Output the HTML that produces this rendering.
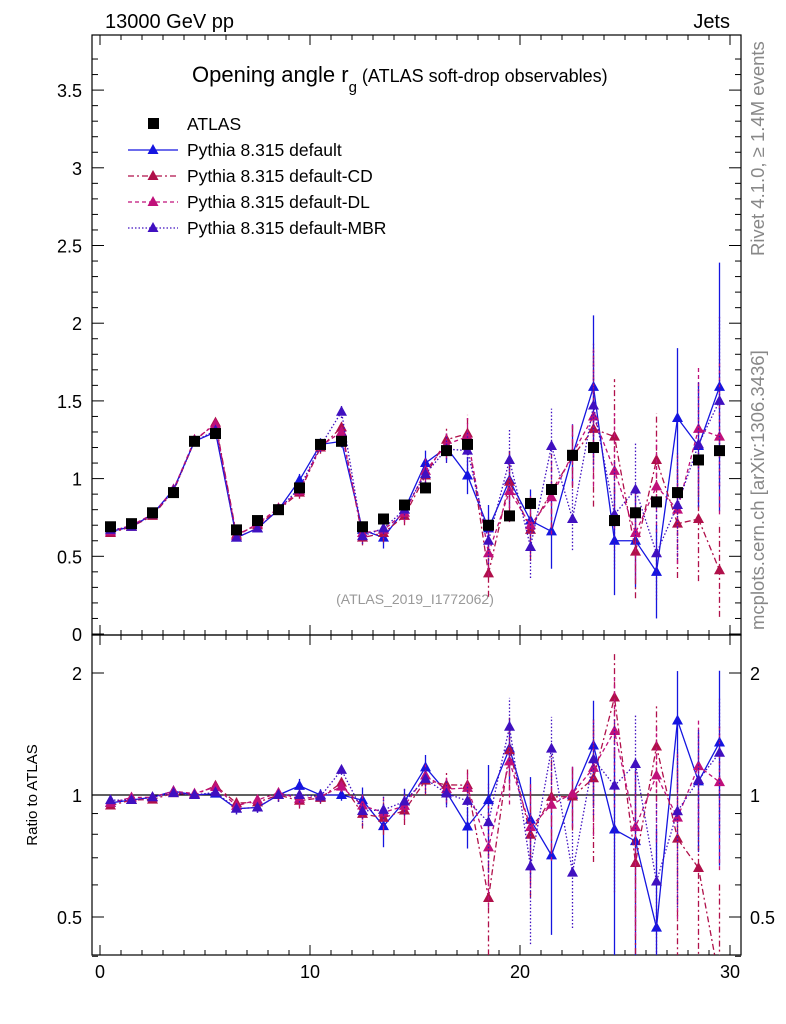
<!DOCTYPE html>
<html><head><meta charset="utf-8"><style>
html,body{margin:0;padding:0;background:#fff;overflow:hidden;width:786px;height:1024px;}
svg{font-family:"Liberation Sans",sans-serif;display:block;}
</style></head><body>
<svg id="c" width="786" height="1024" xmlns="http://www.w3.org/2000/svg">
<text x="105" y="28" font-size="20">13000 GeV pp</text>
<text x="730" y="28" font-size="20" text-anchor="end">Jets</text>
<text x="192" y="82" font-size="22">Opening angle r<tspan font-size="15" dy="10">g</tspan><tspan font-size="18" dy="-10"> (ATLAS soft-drop observables)</tspan></text>
<text x="415" y="604" font-size="14" fill="#999" text-anchor="middle">(ATLAS_2019_I1772062)</text>
<text transform="translate(764,256) rotate(-90)" font-size="18.5" fill="#888">Rivet 4.1.0, ≥ 1.4M events</text>
<text transform="translate(764,630) rotate(-90)" font-size="18.5" fill="#888">mcplots.cern.ch [arXiv:1306.3436]</text>
<text transform="translate(37,795) rotate(-90)" font-size="15" text-anchor="middle">Ratio to ATLAS</text>
<g id="g"></g>
</svg>
<script>
const bins=[0.5,1.5,2.5,3.5,4.5,5.5,6.5,7.5,8.5,9.5,10.5,11.5,12.5,13.5,14.5,15.5,16.5,17.5,18.5,19.5,20.5,21.5,22.5,23.5,24.5,25.5,26.5,27.5,28.5,29.5];
const atlas=[0.69,0.71,0.78,0.91,1.24,1.29,0.67,0.73,0.80,0.94,1.22,1.24,0.69,0.74,0.83,0.94,1.18,1.22,0.70,0.76,0.84,0.93,1.15,1.20,0.73,0.78,0.85,0.91,1.12,1.18];
const pDefault=[0.66,0.69,0.77,0.93,1.24,1.30,0.62,0.68,0.80,0.99,1.22,1.24,0.67,0.62,0.80,1.10,1.20,1.02,0.68,0.99,0.73,0.66,1.15,1.59,0.60,0.60,0.40,1.39,1.21,1.59];
const eDefault=[0.01,0.01,0.01,0.02,0.02,0.02,0.02,0.02,0.03,0.04,0.04,0.04,0.05,0.07,0.06,0.08,0.09,0.12,0.15,0.18,0.2,0.24,0.2,0.46,0.35,0.3,0.3,0.45,0.4,0.8];
const pCD=[0.65,0.69,0.76,0.92,1.24,1.36,0.64,0.70,0.80,0.91,1.20,1.33,0.62,0.65,0.76,1.02,1.25,1.29,0.39,0.98,0.67,0.92,1.14,1.32,1.27,0.53,1.12,0.71,0.74,0.41];
const eCD=[0.01,0.01,0.01,0.02,0.02,0.02,0.02,0.02,0.03,0.04,0.04,0.04,0.05,0.06,0.06,0.08,0.09,0.12,0.15,0.2,0.2,0.24,0.2,0.5,0.37,0.3,0.3,0.35,0.4,0.3];
const pDL=[0.66,0.70,0.77,0.93,1.25,1.35,0.63,0.71,0.81,0.92,1.21,1.30,0.65,0.67,0.78,1.05,1.22,1.27,0.52,0.92,0.70,0.88,1.16,1.40,1.05,0.65,0.95,0.80,1.32,1.27];
const eDL=[0.01,0.01,0.01,0.02,0.02,0.02,0.02,0.02,0.03,0.04,0.04,0.04,0.05,0.06,0.06,0.08,0.09,0.12,0.15,0.2,0.2,0.24,0.2,0.45,0.37,0.3,0.3,0.35,0.4,0.5];
const pMBR=[0.67,0.69,0.77,0.92,1.24,1.31,0.62,0.68,0.80,0.94,1.21,1.43,0.63,0.68,0.80,1.03,1.19,1.18,0.60,1.12,0.56,1.21,0.74,1.47,0.77,0.93,0.52,0.83,1.22,1.50];
const eMBR=[0.01,0.01,0.01,0.02,0.02,0.02,0.02,0.02,0.03,0.04,0.04,0.04,0.05,0.06,0.06,0.08,0.09,0.12,0.15,0.2,0.2,0.24,0.2,0.4,0.35,0.3,0.3,0.35,0.4,0.55];
const yTicks=[0,0.5,1,1.5,2,2.5,3,3.5];
const xTicks=[0,10,20,30];
const rTicks=[0.5,1,2];

const L=92,R=741,T=35,MB=635,RB=955;
const X=v=>100+v*21;
const Y=v=>634-v*155.4;
const RY=v=>795-Math.log2(v)*122;
const g=document.getElementById('g');
const NS='http://www.w3.org/2000/svg';
function el(t,a,p){const e=document.createElementNS(NS,t);for(const k in a)e.setAttribute(k,a[k]);(p||g).appendChild(e);return e;}
const defs=el('defs',{});
const c1=el('clipPath',{id:'cm'},defs);el('rect',{x:L,y:T,width:R-L,height:MB-T},c1);
const c2=el('clipPath',{id:'cr'},defs);el('rect',{x:L,y:MB,width:R-L,height:RB-MB},c2);
let f=el('rect',{x:L,y:T,width:R-L,height:MB-T,fill:'none',stroke:'#000','stroke-width':1.2});

f=el('rect',{x:L,y:MB,width:R-L,height:RB-MB,fill:'none',stroke:'#000','stroke-width':1.2});

for(let v=0;v<=30;v++){const maj=v%10==0;const l=maj?10:5;
 for(const [a,b] of [[T,1],[MB,-1],[MB,1],[RB,-1]]) el('line',{x1:X(v),x2:X(v),y1:a,y2:a+b*l,stroke:'#000'});}
xTicks.forEach(v=>{const t=el('text',{x:X(v),y:978,'font-size':18,'text-anchor':'middle'});t.textContent=v;
});
for(let i=0;i<=37;i++){const v=i/10;const maj=i%5==0;const l=maj?12:6;
 el('line',{x1:L,x2:L+l,y1:Y(v),y2:Y(v),stroke:'#000'});el('line',{x1:R,x2:R-l,y1:Y(v),y2:Y(v),stroke:'#000'});}
yTicks.forEach(v=>{const t=el('text',{x:82,y:Y(v)+7,'font-size':18,'text-anchor':'end'});t.textContent=v;
});
[0.4,0.5,0.6,0.7,0.8,0.9,1,2].forEach(v=>{const l=rTicks.includes(v)?12:6;
 el('line',{x1:L,x2:L+l,y1:RY(v),y2:RY(v),stroke:'#000'});el('line',{x1:R,x2:R-l,y1:RY(v),y2:RY(v),stroke:'#000'});});
rTicks.forEach(v=>{let t=el('text',{x:82,y:RY(v)+7,'font-size':18,'text-anchor':'end'});t.textContent=v;

t=el('text',{x:750,y:RY(v)+7,'font-size':18});t.textContent=v;
});
el('line',{x1:L,x2:R,y1:RY(1),y2:RY(1),stroke:'#000','stroke-width':1.2});

const series=[
 {name:'default',v:pDefault,e:eDefault,c:'#1515e0',d:'',lab:'Pythia 8.315 default'},
 {name:'default-cd',v:pCD,e:eCD,c:'#b0104a',d:'6,3,2,3',lab:'Pythia 8.315 default-CD'},
 {name:'default-dl',v:pDL,e:eDL,c:'#c0107a',d:'4,3',lab:'Pythia 8.315 default-DL'},
 {name:'default-mbr',v:pMBR,e:eMBR,c:'#4010c0',d:'1.5,2',lab:'Pythia 8.315 default-MBR'}];
function tri(x,y,c,p,nm){const t=el('polygon',{points:`${x},${y-6} ${x-5.5},${y+4} ${x+5.5},${y+4}`,fill:c},p);
}
const gm=el('g',{'clip-path':'url(#cm)'}),gr=el('g',{'clip-path':'url(#cr)'});
series.forEach(s=>{
 const sg=el('g',{},gm);
 const rg=el('g',{},gr);
 el('polyline',{points:bins.map((b,i)=>X(b)+','+Y(s.v[i])).join(' '),fill:'none',stroke:s.c,'stroke-width':1.3,'stroke-dasharray':s.d},sg);
 el('polyline',{points:bins.map((b,i)=>X(b)+','+RY(s.v[i]/atlas[i])).join(' '),fill:'none',stroke:s.c,'stroke-width':1.3,'stroke-dasharray':s.d},rg);
 bins.forEach((b,i)=>{
  el('line',{x1:X(b),x2:X(b),y1:Y(s.v[i]-s.e[i]),y2:Y(s.v[i]+s.e[i]),stroke:s.c,'stroke-width':1.3,'stroke-dasharray':s.d},sg);
  const r=s.v[i]/atlas[i],re=s.e[i]/atlas[i];
  el('line',{x1:X(b),x2:X(b),y1:RY(Math.max(r-re,0.05)),y2:RY(r+re),stroke:s.c,'stroke-width':1.3,'stroke-dasharray':s.d},rg);
  tri(X(b),Y(s.v[i]),s.c,sg,'point-'+s.name);
  tri(X(b),RY(r),s.c,rg,'ratio-point-'+s.name);
 });
});
const ag=el('g',{},gm);
bins.forEach((b,i)=>{const r=el('rect',{x:X(b)-5.5,y:Y(atlas[i])-5.5,width:11,height:11,fill:'#000'},ag);
});
const lg=el('g',{});
el('rect',{x:148,y:118,width:11,height:11,fill:'#000'},lg);
let t=el('text',{x:187,y:130,'font-size':17.5},lg);t.textContent='ATLAS';

series.forEach((s,i)=>{const y=150+i*26;
 el('line',{x1:128,x2:178,y1:y,y2:y,stroke:s.c,'stroke-width':1.3,'stroke-dasharray':s.d},lg);
 tri(153,y,s.c,lg,'legend-marker');
 const tt=el('text',{x:187,y:y+6,'font-size':17.5},lg);tt.textContent=s.lab;
 });
</script>
</body></html>
